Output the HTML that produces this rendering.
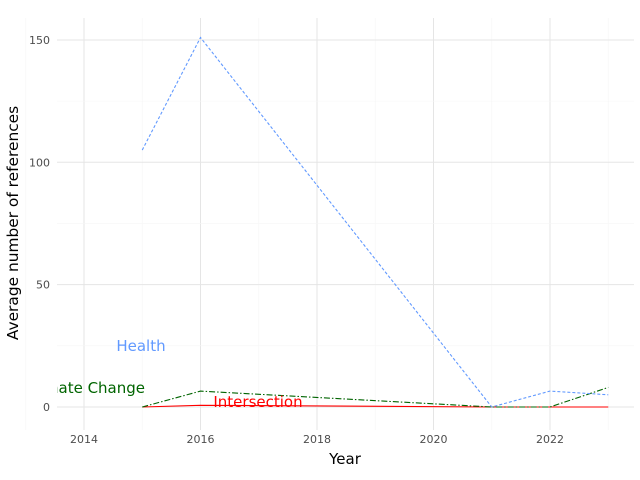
<!DOCTYPE html>
<html><head><meta charset="utf-8"><style>body{margin:0;background:#fff}svg{display:block;font-family:"DejaVu Sans",sans-serif}</style></head>
<body>
<svg id="chart" width="640" height="480" xmlns="http://www.w3.org/2000/svg">
<defs><clipPath id="pc"><rect x="57" y="18" width="577" height="412"/></clipPath></defs>
<g id="grid"></g>
<g id="axes"></g>
<g id="series" clip-path="url(#pc)"></g>
<text x="345" y="464" text-anchor="middle" font-size="15">Year</text>
<text transform="translate(18,223) rotate(-90)" text-anchor="middle" font-size="15.4">Average number of references</text>
</svg>
<script>
const years=[2015,2016,2021,2022,2023];
const health=[105,151,0,6.5,5];
const climate=[0,6.5,0,0,8];
const interYears=[2015,2016,2021,2023];
const intersection=[0,0.7,0,0];
const xTicks=[2014,2016,2018,2020,2022];
const yTicks=[0,50,100,150];
const NS="http://www.w3.org/2000/svg";
const X=v=>84+(v-2014)*58.25;
const Y=v=>407-v*2.447;
function mk(t,a,p){const e=document.createElementNS(NS,t);for(const k in a)e.setAttribute(k,a[k]);p.appendChild(e);return e;}
const g=document.getElementById('grid'),ax=document.getElementById('axes'),s=document.getElementById('series');
for(let v=2013;v<=2023;v+=1){const l=mk('line',{x1:X(v),x2:X(v),y1:18,y2:430,stroke:v%2?'#f6f6f6':'#e5e5e5','stroke-width':v%2?0.6:1},g);

}
for(let v=-25;v<=175;v+=25){if(Y(v)<18||Y(v)>430)continue;const l=mk('line',{x1:57,x2:634,y1:Y(v),y2:Y(v),stroke:v%50?'#f6f6f6':'#e5e5e5','stroke-width':v%50?0.6:1},g);

}
xTicks.forEach(v=>{const t=mk('text',{x:X(v),y:443,'text-anchor':'middle','font-size':11,fill:'#4d4d4d'},ax);t.textContent=v;

});
yTicks.forEach(v=>{const t=mk('text',{x:50,y:Y(v)+4,'text-anchor':'end','font-size':11,fill:'#4d4d4d'},ax);t.textContent=v;

});
function line(xs,ys,col,dash,name){const p=mk('polyline',{points:xs.map((x,i)=>X(x)+','+Y(ys[i])).join(' '),fill:'none',stroke:col,'stroke-width':1.1,'stroke-dasharray':dash},s);

}
line(interYears,intersection,'#ff0000','none','intersection-line');
line(years,climate,'#006400','6 2 1.5 2','climate-change-line');
line(years,health,'#6199ff','3 2','health-line');
function lab(txt,x,y,col,name,anc){const t=mk('text',{x:x,y:y,'text-anchor':anc||'middle','font-size':15,fill:col},s);t.textContent=txt;

}
lab('Health',141,351,'#6199ff','health-label');
lab('Climate Change',145,393,'#006400','climate-change-label','end');
lab('Intersection',258,407,'#ff0000','intersection-label');
</script>
</body></html>
